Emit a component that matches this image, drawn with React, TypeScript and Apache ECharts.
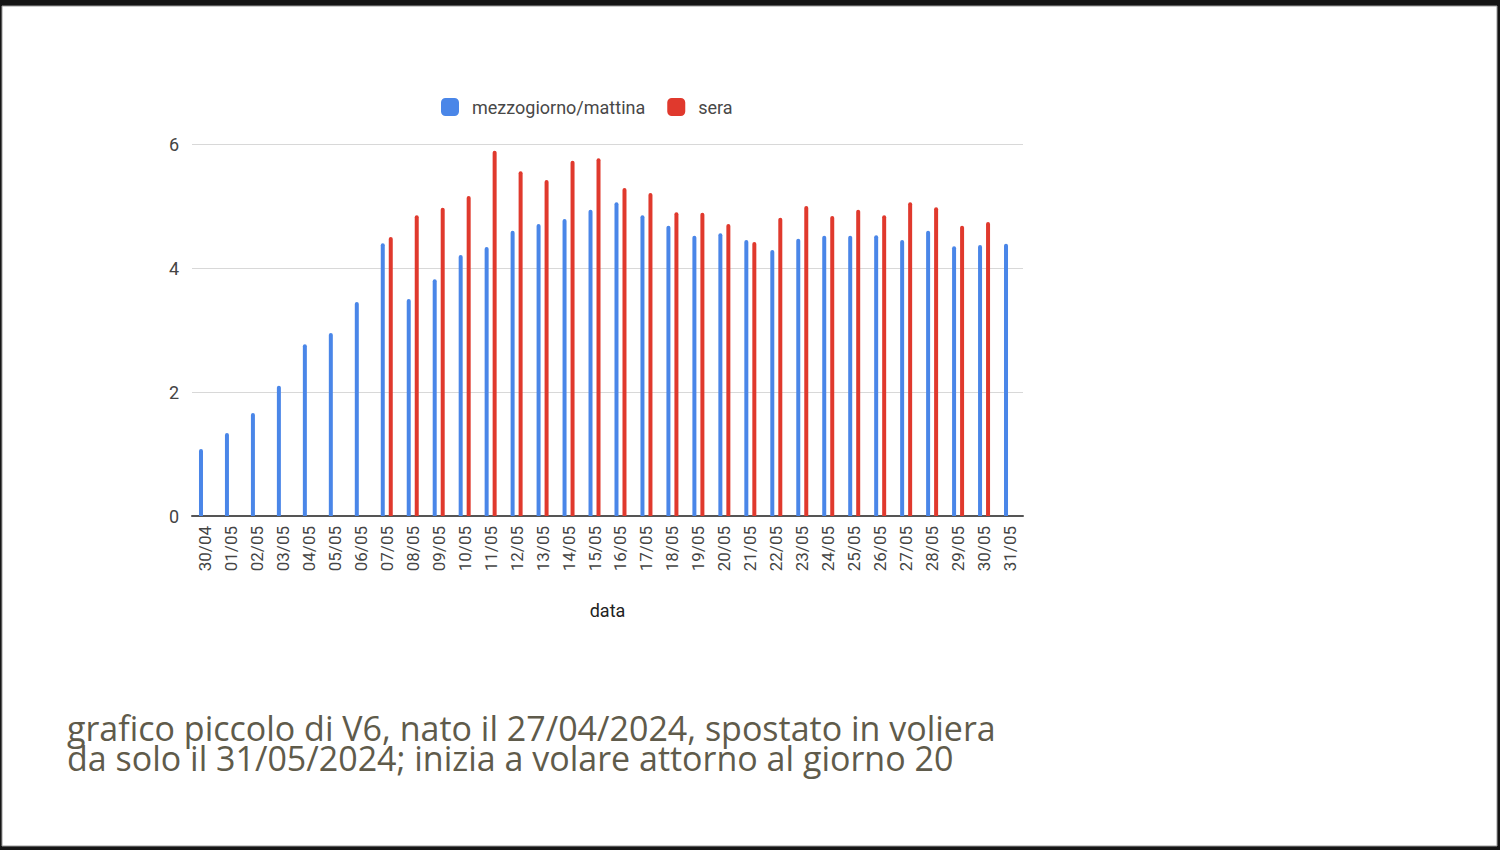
import React, { useEffect, useRef } from "react";
import * as echarts from "echarts";

const categories = [
  "30/04", "01/05", "02/05", "03/05", "04/05", "05/05", "06/05", "07/05", "08/05", "09/05",
  "10/05", "11/05", "12/05", "13/05", "14/05", "15/05", "16/05", "17/05", "18/05", "19/05",
  "20/05", "21/05", "22/05", "23/05", "24/05", "25/05", "26/05", "27/05", "28/05", "29/05",
  "30/05", "31/05",
];

const mattina = [
  1.08, 1.34, 1.66, 2.1, 2.77, 2.95, 3.45, 4.4, 3.5, 3.82,
  4.21, 4.34, 4.6, 4.71, 4.79, 4.94, 5.06, 4.85, 4.68, 4.52,
  4.56, 4.45, 4.29, 4.47, 4.52, 4.52, 4.53, 4.45, 4.6, 4.35,
  4.37, 4.39,
];

const sera = [
  null, null, null, null, null, null, null, 4.5, 4.85, 4.97,
  5.16, 5.89, 5.56, 5.42, 5.73, 5.77, 5.29, 5.21, 4.9, 4.89,
  4.71, 4.42, 4.81, 5.0, 4.84, 4.94, 4.85, 5.06, 4.98, 4.68,
  4.74, null,
];

const yTicks = [0, 2, 4, 6];

const seriesNames = ["mezzogiorno/mattina", "sera"];
const captionLines = [
  "grafico piccolo di V6, nato il 27/04/2024, spostato in voliera",
  "da solo il 31/05/2024; inizia a volare attorno al giorno 20",
];

export default function App() {
  const ref = useRef<HTMLDivElement>(null);

  useEffect(() => {
    if (!ref.current) return;
    const chart = echarts.init(ref.current, undefined, { renderer: "svg" });
    chart.setOption({
      animation: false,
      backgroundColor: "#151515",
      textStyle: { fontFamily: "Roboto, Arial, sans-serif" },
      graphic: [
        {
          type: "rect",
          z: -10,
          shape: { x: 2, y: 6, width: 1495, height: 840 },
          style: { fill: "#ffffff", stroke: "#9a9a9a", lineWidth: 1 },
          silent: true,
        },
        {
          type: "text",
          left: 67,
          top: 711,
          style: {
            text: captionLines.join("\n"),
            fill: "#5f5b4b",
            font: '34px "Open Sans", sans-serif',
            lineHeight: 30,
          },
        },
      ],
      legend: {
        top: 93,
        left: 436,
        itemWidth: 18,
        itemHeight: 18,
        itemGap: 22,
        icon: "roundRect",
        textStyle: {
          fontSize: 18,
          color: "#484848",
          fontFamily: "Roboto, Arial, sans-serif",
          padding: [0, 0, 0, 8],
        },
        data: seriesNames,
      },
      grid: { left: 192, right: 477, top: 144, bottom: 334, containLabel: false },
      xAxis: {
        type: "category",
        data: categories,
        name: "data",
        nameLocation: "middle",
        nameGap: 85,
        nameTextStyle: { fontSize: 18, color: "#222" },
        axisLine: { lineStyle: { color: "#555", width: 2 } },
        axisTick: { show: false },
        axisLabel: { rotate: 90, fontSize: 17, color: "#444", margin: 10, interval: 0 },
      },
      yAxis: {
        type: "value",
        min: yTicks[0],
        max: yTicks[yTicks.length - 1],
        interval: 2,
        axisLine: { show: false },
        axisTick: { show: false },
        axisLabel: { fontSize: 18, color: "#444", margin: 13 },
        splitLine: { lineStyle: { color: "#d8d8d8", width: 1 } },
      },
      series: [
        {
          name: seriesNames[0],
          type: "bar",
          data: mattina,
          barWidth: 4,
          barGap: "100%",
          itemStyle: { color: "#4a86e8", borderRadius: [2, 2, 0, 0] },
        },
        {
          name: seriesNames[1],
          type: "bar",
          data: sera,
          barWidth: 4,
          itemStyle: { color: "#e0392d", borderRadius: [2, 2, 0, 0] },
        },
      ],
    });
    return () => chart.dispose();
  }, []);

  return (
    <div
      ref={ref}
      style={{ position: "absolute", left: 0, top: 0, width: 1500, height: 850 }}
    />
  );
}
